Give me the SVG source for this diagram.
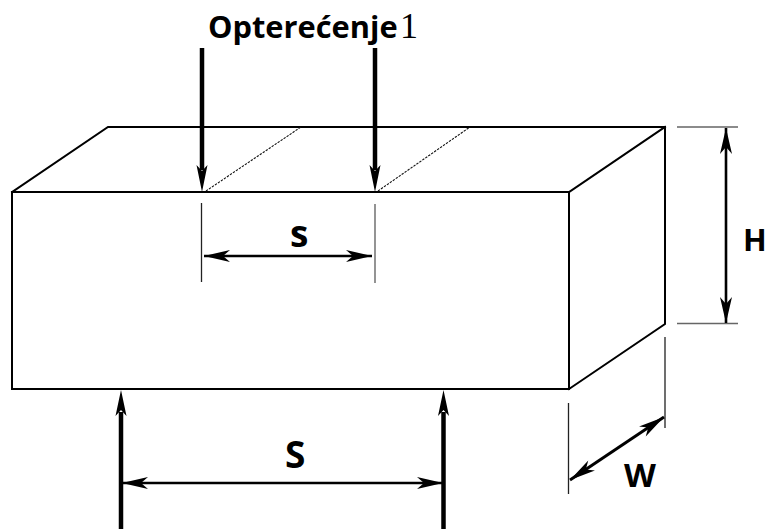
<svg xmlns="http://www.w3.org/2000/svg" width="767" height="529" viewBox="0 0 767 529">
<style>
.e{fill:none;stroke:#000;stroke-width:2;stroke-linecap:square}
.t{fill:none;stroke:#222;stroke-width:1.3}
.tg{fill:none;stroke:#666;stroke-width:1.4}
.f{fill:none;stroke:#000;stroke-width:4.5}
.d{fill:none;stroke:#000;stroke-width:2.6}
.w{fill:none;stroke:#000;stroke-width:3}
.h{fill:none;stroke:#111;stroke-width:1.1;stroke-dasharray:2.4 1.2}
text{font-family:"Open Sans","Noto Sans",sans-serif;font-weight:700;fill:#000}
.n{font-family:"Liberation Serif",serif;font-weight:400}
</style>
<defs>
<marker id="a" markerUnits="userSpaceOnUse" markerWidth="30" markerHeight="16" refX="26" refY="8" orient="auto-start-reverse" overflow="visible"><path d="M26 8L0 2L7 8L0 14Z" fill="#000"/></marker>
</defs>
<g id="block">
<path class="e" d="M12 192H569V389H12ZM12 192L108 127H665V324L569 389M569 192L665 127"/>
</g>
<g id="connectors">
<path class="h" d="M206 191L301 127M378 191L470 127"/>
<path class="f" d="M202 48V170" /><path d="M202 192L196.500 165L202 171L207.500 165Z" fill="#000"/>
<path class="f" d="M375 48V170" /><path d="M375 192L369.500 165L375 171L380.500 165Z" fill="#000"/>
<path class="f" d="M121 529V412" /><path d="M121 390L115.500 416L121 410L126.500 416Z" fill="#000"/>
<path class="f" d="M443.500 529V412" /><path d="M443.500 390L438 416L443.500 410L449 416Z" fill="#000"/>
<path class="t" d="M201.500 203V282"/><path class="tg" d="M375 204V283"/>
<path class="d" d="M204 256H372" marker-start="url(#a)" marker-end="url(#a)"/>
<path class="d" d="M122 483H443" marker-start="url(#a)" marker-end="url(#a)"/>
<path class="tg" d="M677 127H738M677 323.500H738"/>
<path class="d" d="M726 128V323" marker-start="url(#a)" marker-end="url(#a)"/>
<path class="t" d="M568.500 403V494M665 337V428"/>
<path class="w" d="M570 480L664 417" marker-start="url(#a)" marker-end="url(#a)"/>
</g>
<g id="labels">
<text x="208" y="38" font-size="30.800">Opterećenje</text>
<text class="n" x="400" y="38" font-size="36">1</text>
<text x="290" y="247" font-size="37">s</text>
<text x="285" y="468" font-size="37">S</text>
<text x="743" y="251" font-size="31">H</text>
<text x="624" y="487" font-size="33">W</text>
</g>
</svg>
